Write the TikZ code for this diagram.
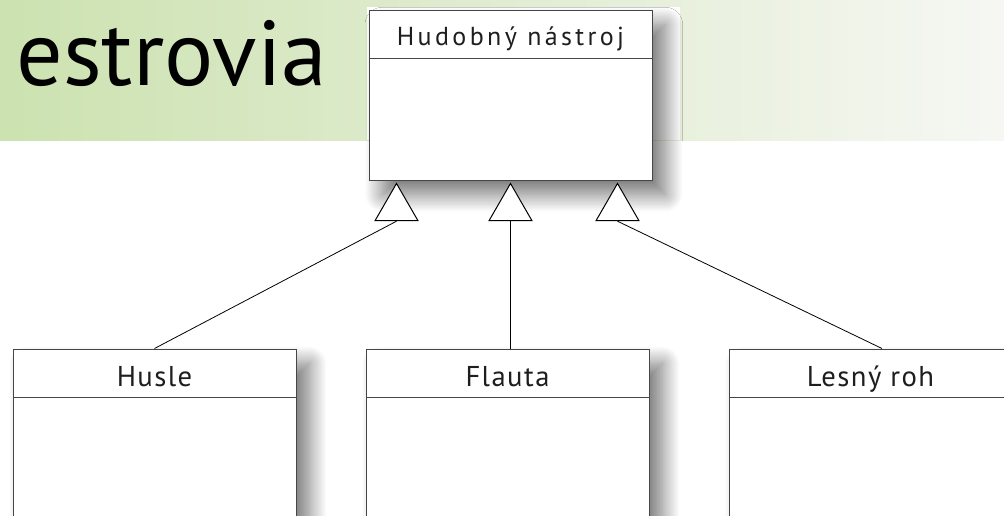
\documentclass[tikz,border=0pt]{standalone}
\usepackage{fontspec}
\setmainfont{PT Sans}
\usetikzlibrary{positioning, shapes.geometric, shadows.blur}

\definecolor{bandgreen}{RGB}{204,226,176}
\definecolor{bandgrey}{RGB}{246,247,243}
\definecolor{boxline}{RGB}{70,70,70}
\definecolor{inktext}{RGB}{30,30,30}

\tikzset{
  classbox/.style = {draw=boxline, fill=white, inner sep=0pt,
      minimum width=212.25pt,
      blur shadow={shadow xshift=10pt, shadow yshift=-11pt,
        shadow blur radius=13pt, shadow blur steps=30, shadow opacity=55}},
  classhead/.style = {draw=boxline, fill=white, inner sep=0pt,
      minimum width=212.25pt, minimum height=36pt, text=inktext,
      text height=#1, text depth=0pt},
  classhead/.default = 19.5pt,
  gen/.style = {draw, fill=white, regular polygon, regular polygon sides=3,
      minimum size=37.2pt, inner sep=0pt},
  connector/.style = {draw, line width=0.6pt}
}

\begin{document}
\begin{tikzpicture}
[x=0.75pt, y=-0.75pt, line width=0.75pt]

\useasboundingbox (0,0) rectangle (1004,515);

% title band
\shade[left color=bandgreen, right color=bandgrey] (0,0) rectangle (1004,140);
\fill[white] (367,7) rectangle (680,140);
\node [anchor=base west, inner sep=0pt, font=\fontsize{69}{72}\selectfont]
  (title) at (16,85) {estrovia};

% superclass
\node [classbox, minimum height=127.5pt] (instrumentbox) at (510.5,95) {};
\node [classhead=16.5pt, below=0pt of instrumentbox.north,
  font=\fontsize{19.5}{22}\selectfont\addfontfeature{LetterSpace=13}]
  (instrument) {Hudobný nástroj};

% subclasses
\node [classbox, minimum height=130pt, below=126pt of instrumentbox,
  xshift=-2.25pt] (flautabox) {};
\node [classbox, minimum height=130pt, left=51.75pt of flautabox] (huslebox) {};
\node [classbox, minimum height=130pt, right=59.25pt of flautabox] (lesnyrohbox) {};

\foreach \cls/\name in {husle/Husle, flauta/Flauta, lesnyroh/Lesný roh}
  \node [classhead, below=0pt of \cls box.north,
    font=\fontsize{21.5}{24}\selectfont\addfontfeature{LetterSpace=5}]
    (\cls) {\name};

% generalization triangles
\node [gen, below=1.5pt of instrumentbox.south, xshift=-85.5pt] (gen1) {};
\node [gen, below=1.5pt of instrumentbox.south] (gen2) {};
\node [gen, below=1.5pt of instrumentbox.south, xshift=80.25pt] (gen3) {};

\path [connector] (gen1.south) -- (husle.north);
\path [connector] (gen2.south) -- (gen2.south |- flauta.north);
\path [connector] (gen3.south) -- ([xshift=8.6pt]lesnyroh.north);

\end{tikzpicture}
\end{document}
